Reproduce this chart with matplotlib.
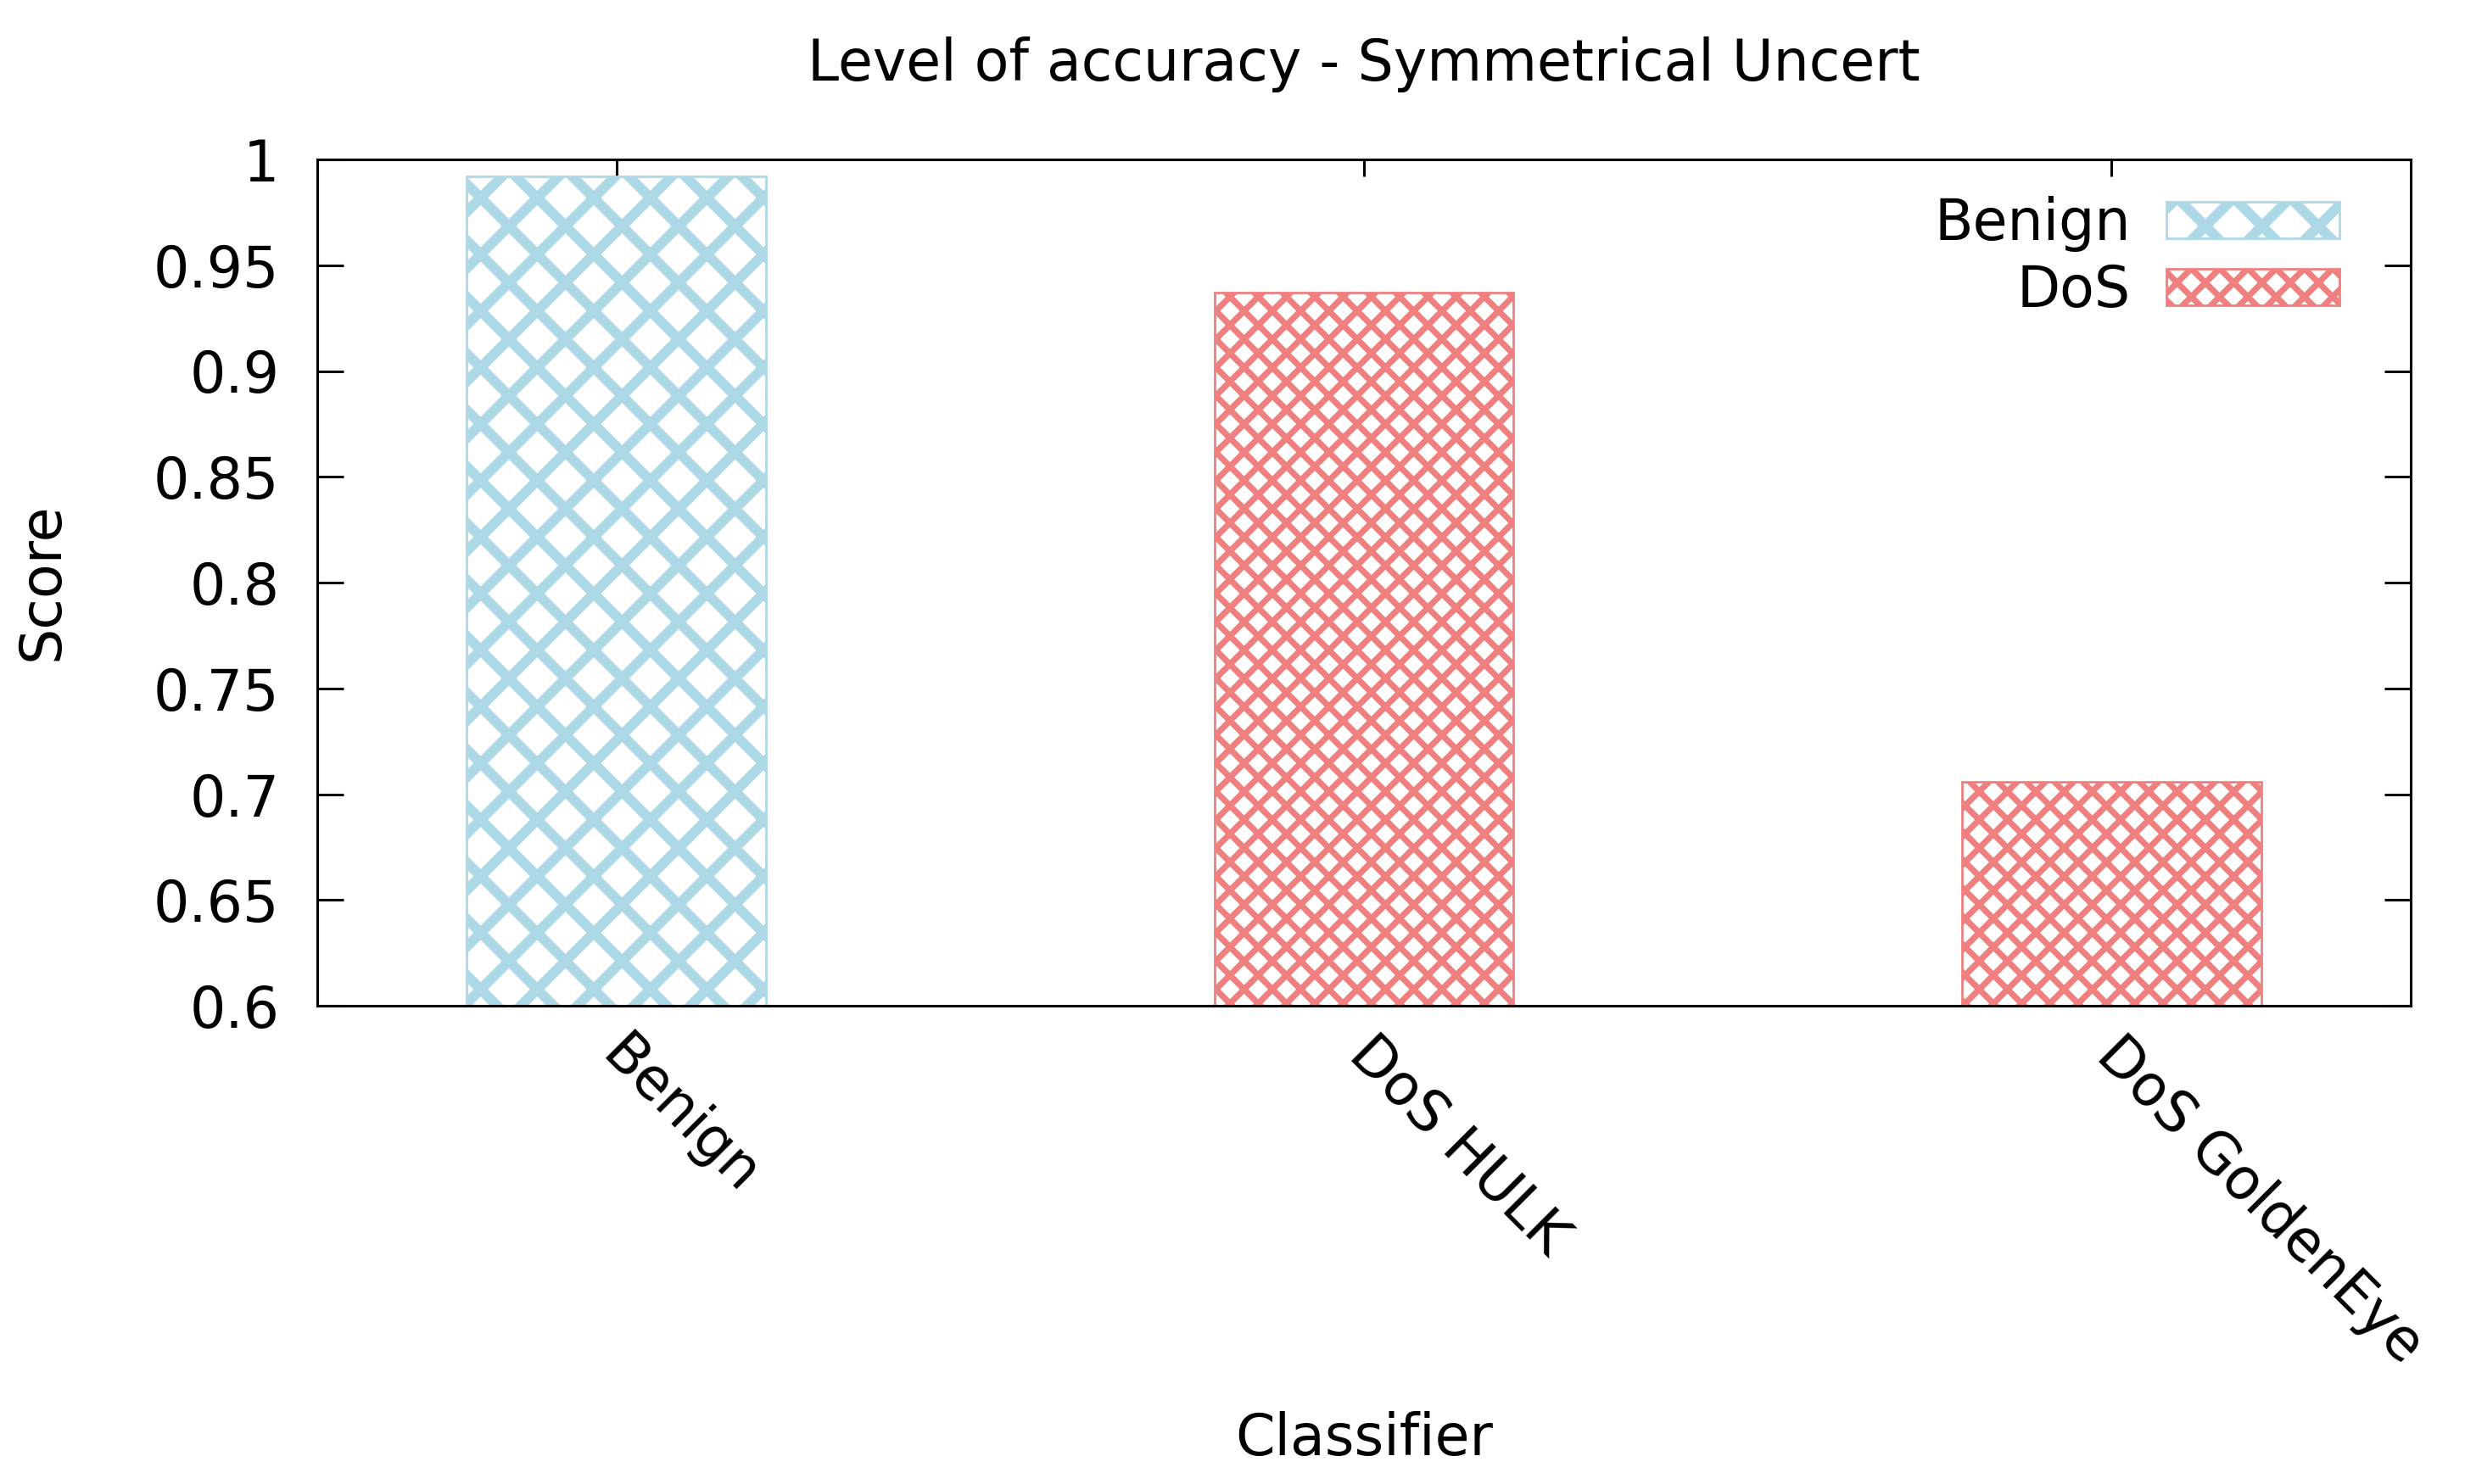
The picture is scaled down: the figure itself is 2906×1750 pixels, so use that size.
import matplotlib
matplotlib.use("Agg")
import matplotlib.pyplot as plt
from matplotlib.transforms import ScaledTranslation

# ---- data ----
categories = ["Benign", "DoS HULK", "DoS GoldenEye"]
scores = [0.992, 0.937, 0.706]
series = ["Benign", "DoS", "DoS"]
series_names = ["Benign", "DoS"]
series_colors = {"Benign": "#add8e6", "DoS": "#f08080"}
series_hatch = {"Benign": "x", "DoS": "xx"}
series_hatch_lw = {"Benign": 4.3, "DoS": 2.6}
yticks = [0.6, 0.65, 0.7, 0.75, 0.8, 0.85, 0.9, 0.95, 1.0]
ytick_labels = ["0.6", "0.65", "0.7", "0.75", "0.8", "0.85", "0.9", "0.95", "1"]

plt.rcParams["font.family"] = ["DejaVu Sans"]
FS = 24

W, H = 2906, 1750
DPI = 200
fig = plt.figure(figsize=(W / DPI, H / DPI), dpi=DPI)
L, R, T, B = 374, 2842, 188, 1186
ax = fig.add_axes([L / W, 1 - B / H, (R - L) / W, (B - T) / H])

xs = list(range(len(categories)))
handles = {}
for x, c, v, s in zip(xs, categories, scores, series):
    with plt.rc_context({"hatch.linewidth": series_hatch_lw[s]}):
        bc = ax.bar(x, v, width=0.4, facecolor="white", edgecolor=series_colors[s],
                    hatch=series_hatch[s], linewidth=1.0, zorder=2, label=s)
    for p in bc.patches:
        if hasattr(p, "set_hatch_linewidth"):
            p.set_hatch_linewidth(series_hatch_lw[s])
    if s not in handles:
        handles[s] = bc

ax.set_xlim(-0.4, 2.4)
ax.set_ylim(0.6, 1.0)
ax.set_yticks(yticks)
ax.set_yticklabels(ytick_labels)
ax.set_xticks(xs)
ax.set_xticklabels(categories, rotation=-45, ha="left", va="center",
                   rotation_mode="anchor")

for sp in ax.spines.values():
    sp.set_linewidth(1.1)
    sp.set_zorder(3)

ax.tick_params(axis="y", direction="in", length=11, width=1.1, labelsize=FS,
               left=True, right=True, pad=16)
ax.tick_params(axis="x", direction="in", length=7.2, width=1.1, labelsize=FS,
               bottom=False, top=True, pad=17)
shift = ScaledTranslation(-7 / DPI, 0, fig.dpi_scale_trans)
for tick in ax.xaxis.get_major_ticks():
    tick.label1.set_transform(tick.label1.get_transform() + shift)

fig.text((L + R) / 2 / W, 1 - 76 / H, "Level of accuracy - Symmetrical Uncert",
         ha="center", va="center", fontsize=FS)
fig.text((L + R) / 2 / W, 1 - 1697 / H, "Classifier", ha="center", va="center",
         fontsize=FS)
fig.text(50 / W, 1 - 686 / H, "Score", ha="center", va="center", rotation=90,
         fontsize=FS)

leg = ax.legend([handles[n] for n in series_names], series_names,
                loc="upper right", bbox_to_anchor=(2758 / W, 1 - 231 / H),
                bbox_transform=fig.transFigure, frameon=False, markerfirst=False,
                fontsize=FS, handlelength=3.06, handleheight=0.62,
                handletextpad=0.63, labelspacing=0.2, borderpad=0,
                borderaxespad=0)
for lp, n in zip(leg.get_patches(), series_names):
    if hasattr(lp, "set_hatch_linewidth"):
        lp.set_hatch_linewidth(series_hatch_lw[n])

fig.savefig("out.png", dpi=DPI, facecolor="white")
